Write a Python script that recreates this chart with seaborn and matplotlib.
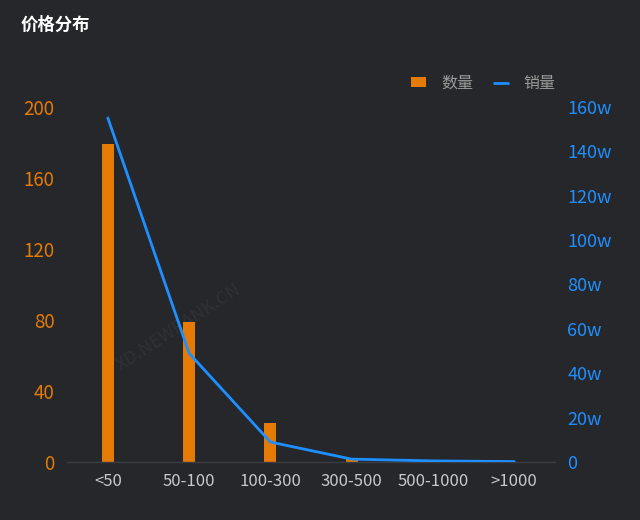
import numpy as np
import pandas as pd
import matplotlib
matplotlib.use("Agg")
import matplotlib.pyplot as plt
from matplotlib.lines import Line2D
from matplotlib.patches import Patch
import seaborn as sns

# data
price_ranges = ["<50", "50-100", "100-300", "300-500", "500-1000", ">1000"]
counts = [179, 79, 22, 2, 0.3, 0.1]          # 数量
sales_w = [155, 49, 9, 1.3, 0.5, 0.2]        # 销量 (万)

left_ticks = [0, 40, 80, 120, 160, 200]
right_ticks = [0, 20, 40, 60, 80, 100, 120, 140, 160]
right_labels = ["0"] + [f"{t}w" for t in right_ticks[1:]]

BG = "#26272b"
ORANGE = "#e57a05"
BLUE = "#1e8fff"
TEXT = "#c8c8c8"

sns.set_theme(style="dark")
plt.rcParams["font.family"] = ["Noto Sans CJK SC", "DejaVu Sans"]

df = pd.DataFrame({"range": price_ranges, "count": counts, "sales": sales_w})

fig = plt.figure(figsize=(6.4, 5.2), dpi=100, facecolor=BG)
ax = fig.add_axes([0.105, 0.1115, 0.762, 0.683])
ax.set_facecolor(BG)

# faint watermark, behind the bars
ax.text(0.28, 0.37, "XD.NEWRANK.CN", color="#303136", fontsize=13,
        rotation=33, ha="center", va="center", zorder=1,
        transform=fig.transFigure)

sns.barplot(data=df, x="range", y="count", color=ORANGE, width=0.15,
            saturation=1, edgecolor="none", linewidth=0, ax=ax, zorder=2)

ax2 = ax.twinx()
sns.lineplot(x=np.arange(len(price_ranges)), y=df["sales"], color=BLUE,
             linewidth=2, ax=ax2, zorder=3)

ax.set_xlim(-0.5, len(price_ranges) - 0.5)
ax.set_ylim(0, 200)
ax2.set_ylim(0, 160)
ax.set_yticks(left_ticks)
ax2.set_yticks(right_ticks)
ax2.set_yticklabels(right_labels)

ax.set_xlabel("")
ax.set_ylabel("")
ax2.set_ylabel("")
ax.grid(False)
ax2.grid(False)

for a in (ax, ax2):
    for s in a.spines.values():
        s.set_visible(False)
ax.spines["bottom"].set_visible(True)
ax.spines["bottom"].set_color("#3c3d42")
ax.spines["bottom"].set_linewidth(1)

ax.tick_params(axis="x", colors=TEXT, labelsize=12, length=0, pad=8)
ax.tick_params(axis="y", colors=ORANGE, labelsize=13.5, length=0, pad=9)
ax2.tick_params(axis="y", colors=BLUE, labelsize=13, length=0, pad=9)
for lbl in ax.get_xticklabels():
    lbl.set_color(TEXT)

# title
fig.text(0.032, 0.952, "价格分布", color="white", fontsize=12.5,
         fontweight="bold", ha="left", va="center")

# legend
handles = [Patch(facecolor=ORANGE, edgecolor="none"),
           Line2D([0], [0], color=BLUE, lw=2)]
leg = fig.legend(handles, ["数量", "销量"], loc="center right",
                 bbox_to_anchor=(0.89, 0.84), ncol=2, frameon=False,
                 fontsize=11.5, handlelength=0.9, handleheight=0.5,
                 columnspacing=1.3, handletextpad=0.95)
for t in leg.get_texts():
    t.set_color("#9a9a9a")

fig.savefig("out.png", dpi=100, facecolor=BG)
